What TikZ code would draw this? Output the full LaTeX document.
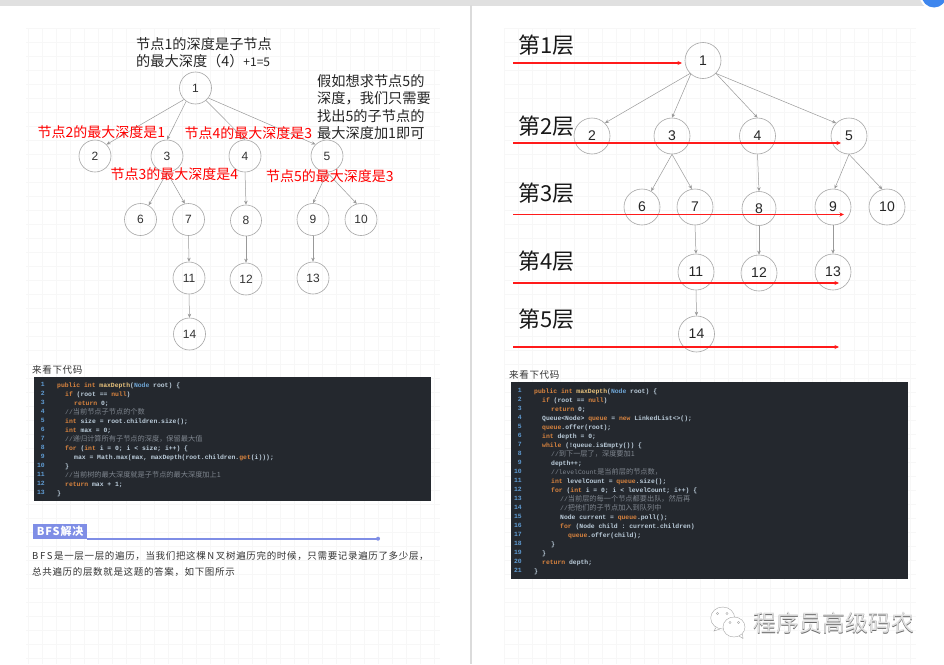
\documentclass[tikz,border=0pt]{standalone}
\usepackage{fontspec}
\setmainfont{Liberation Sans}
\setmonofont{Liberation Mono}
\newfontfamily\cjk{Noto Sans CJK SC}
\newfontfamily\cjkbody[LetterSpace=7]{Noto Sans CJK SC}
\newfontfamily\cjkhead[LetterSpace=8]{Noto Sans CJK SC}
\usetikzlibrary{arrows.meta}

\definecolor{codebg}{HTML}{24282E}
\definecolor{codetext}{HTML}{BCCDDB}
\definecolor{codekw}{HTML}{D9843F}
\definecolor{codefn}{HTML}{E8C27C}
\definecolor{codetype}{HTML}{6FA6D6}
\definecolor{codecmt}{HTML}{7E858E}
\definecolor{codenum}{HTML}{5F9BD2}
\definecolor{headblue}{HTML}{7F8EE6}
\definecolor{nodeline}{HTML}{A6A6A6}
\definecolor{edgeline}{HTML}{999999}
\definecolor{arrowred}{HTML}{FF1A1A}
\definecolor{badgeblue}{HTML}{3E86EE}

\newcommand\kw[1]{{\color{codekw}#1}}
\newcommand\fn[1]{{\color{codefn}#1}}
\newcommand\ty[1]{{\color{codetype}#1}}
\newcommand\cmt[1]{{\color{codecmt}\mdseries #1}}
\newcommand\zh[1]{{\cjk\fontsize{7.2}{9}\selectfont #1}}
\newcommand\ind[1]{\hspace*{#1pt}}

\tikzset{
    smallnode/.style={circle, draw=nodeline, line width=0.6pt, minimum size=32pt, inner sep=0pt,
        text=black!80, font=\fontsize{12}{12}\selectfont},
    bignode/.style={circle, draw=nodeline, line width=0.6pt, minimum size=36pt, inner sep=0pt,
        text=black!85, font=\fontsize{14}{14}\selectfont},
    edge/.style={draw=edgeline, line width=0.5pt, -{Stealth[length=4pt,width=3.5pt]}},
    note/.style={anchor=west, inner sep=0pt, align=left, text=black!85,
        font=\cjk\fontsize{14.2}{17.2}\selectfont},
    rednote/.style={anchor=west, inner sep=0pt, text=red, font=\cjk\fontsize{14}{17}\selectfont},
    levelnote/.style={anchor=west, inner sep=0pt, text=black!90, font=\cjk\fontsize{22}{22}\selectfont},
    levelarrow/.style={draw=arrowred, line width=1.2pt, -{Stealth[length=4.5pt,width=4pt]}},
    codeblock/.style={anchor=north west, inner sep=0pt, align=left, text=codetext,
        font=\ttfamily\bfseries\fontsize{6.4}{9}\selectfont},
    numblock/.style={anchor=north east, inner sep=0pt, align=right, text=codenum,
        font=\ttfamily\bfseries\fontsize{6.4}{9}\selectfont},
    bodytext/.style={anchor=west, inner sep=0pt, text=black!80, font=\cjkbody\fontsize{9.5}{9.5}\selectfont},
    gridline/.style={draw=black!3, line width=0.4pt}
}

\begin{document}
\begin{tikzpicture}[x=1pt, y=-1pt]
    \useasboundingbox (0,0) rectangle (944,664);

    % Fondo
    \fill[white] (0,0) rectangle (944,664);
    \draw[gridline, step=14pt] (26,28) grid (440,664);
    \draw[gridline, step=14pt] (504,28) grid (916,664);
    \fill[black!12] (0,0) rectangle (944,5.5);
    \fill[black!14] (470,5) rectangle (472,664);
    \fill[white] (934,-5) circle (14.5);
    \fill[badgeblue] (934,-5) circle (12.5);

    % Arbol izquierdo
    \node[smallnode] (a1) at (195.5,88) {1};
    \node[smallnode] (a2) at (95,156) {2};
    \node[smallnode] (a3) at (167,156) {3};
    \node[smallnode] (a4) at (245,156) {4};
    \node[smallnode] (a5) at (327,156) {5};
    \node[smallnode] (a6) at (140.5,219.5) {6};
    \node[smallnode] (a7) at (188.5,219.5) {7};
    \node[smallnode, minimum size=31pt] (a8) at (246,220.5) {8};
    \node[smallnode] (a9) at (313,219.5) {9};
    \node[smallnode] (a10) at (361,219.5) {10};
    \node[smallnode] (a11) at (189,278) {11};
    \node[smallnode] (a12) at (246,279) {12};
    \node[smallnode] (a13) at (313,278) {13};
    \node[smallnode] (a14) at (189.5,334) {14};

    \draw[edge] (a1.225) -- (a2.45);
    \draw[edge] (a1.235) -- (a3.north);
    \draw[edge] (a1.310) -- (a4.north);
    \draw[edge] (a1.322) -- (a5.135);
    \draw[edge] (a3.south) -- (a6.60);
    \draw[edge] (a3.south) -- (a7.103);
    \draw[edge] (a4.south) -- (a8.north);
    \draw[edge] (a5.south) -- (a9.north);
    \draw[edge] (a5.south) -- (a10.105);
    \draw[edge] (a7.south) -- (a11.north);
    \draw[edge] (a8.south) -- (a12.north);
    \draw[edge] (a9.south) -- (a13.north);
    \draw[edge] (a11.south) -- (a14.north);

    % Textos del arbol izquierdo
    \node[note] (rootnote) at (136,52.5) {节点1的深度是子节点\\的最大深度（4）{\fontsize{12}{17.2}\selectfont +1=5}};
    \node[note] (asknote) at (317,107) {假如想求节点5的\\深度，我们只需要\\找出5的子节点的\\最大深度加1即可};
    \node[rednote] (red2) at (37.5,132) {节点2的最大深度是1};
    \node[rednote] (red4) at (184.5,133) {节点4的最大深度是3};
    \node[rednote] (red3) at (110.5,174.5) {节点3的最大深度是4};
    \node[rednote] (red5) at (266,176) {节点5的最大深度是3};

    % Arbol derecho
    \node[bignode] (b1) at (703,60.5) {1};
    \node[bignode] (b2) at (592,136) {2};
    \node[bignode] (b3) at (672,136) {3};
    \node[bignode] (b4) at (757.5,136) {4};
    \node[bignode] (b5) at (849,136) {5};
    \node[bignode] (b6) at (642,207) {6};
    \node[bignode] (b7) at (695,207) {7};
    \node[bignode, minimum size=34pt] (b8) at (759,208.5) {8};
    \node[bignode] (b9) at (833,207) {9};
    \node[bignode] (b10) at (887,207) {10};
    \node[bignode] (b11) at (696,272) {11};
    \node[bignode] (b12) at (759,273) {12};
    \node[bignode] (b13) at (833,272) {13};
    \node[bignode] (b14) at (696.5,334) {14};

    \draw[edge] (b1.225) -- (b2.45);
    \draw[edge] (b1.228) -- (b3.north);
    \draw[edge] (b1.315) -- (b4.north);
    \draw[edge] (b1.315) -- (b5.135);
    \draw[edge] (b3.south) -- (b6.60);
    \draw[edge] (b3.south) -- (b7.100);
    \draw[edge] (b4.south) -- (b8.north);
    \draw[edge] (b5.south) -- (b9.85);
    \draw[edge] (b5.south) -- (b10.105);
    \draw[edge] (b7.south) -- (b11.north);
    \draw[edge] (b8.south) -- (b12.north);
    \draw[edge] (b9.south) -- (b13.north);
    \draw[edge] (b11.south) -- (b14.north);

    % Capas
    \node[levelnote] (level1) at (518,45) {第1层};
    \node[levelnote] (level2) at (518,126) {第2层};
    \node[levelnote] (level3) at (518,193.5) {第3层};
    \node[levelnote] (level4) at (518,261) {第4层};
    \node[levelnote] (level5) at (518,319) {第5层};

    \coordinate (start1) at (513,63);
    \coordinate (end1) at (682,63);
    \coordinate (start2) at (513,143);
    \coordinate (end2) at (841,143);
    \coordinate (start3) at (513,214.5);
    \coordinate (end3) at (844,214.5);
    \coordinate (start4) at (513,283);
    \coordinate (end4) at (839,283);
    \coordinate (start5) at (513,347);
    \coordinate (end5) at (839,347);
    \draw[levelarrow] (start1) -- (end1);
    \draw[levelarrow] (start2) -- (end2);
    \draw[levelarrow] (start3) -- (end3);
    \draw[levelarrow] (start4) -- (end4);
    \draw[levelarrow] (start5) -- (end5);

    % Codigo izquierdo
    \node[bodytext] (titlea) at (32,370) {来看下代码};
    \fill[codebg] (34,377.3) rectangle (431,500.7);
    \node[numblock] (numa) at (45,382.5) {1\\2\\3\\4\\5\\6\\7\\8\\9\\10\\11\\12\\13};
    \node[codeblock] (codea) at (57,382.5) {%
        \kw{public int} \fn{maxDepth}(\ty{Node} root) \{\\
        \ind{8}\kw{if} (root == \kw{null})\\
        \ind{17}\kw{return} 0;\\
        \ind{8}\cmt{//\zh{当前节点子节点的个数}}\\
        \ind{8}\kw{int} size = root.children.size();\\
        \ind{8}\kw{int} max = 0;\\
        \ind{8}\cmt{//\zh{递归计算所有子节点的深度，保留最大值}}\\
        \ind{8}\kw{for} (\kw{int} i = 0; i < size; i++) \{\\
        \ind{17}max = Math.max(max, maxDepth(root.children.\kw{get}(i)));\\
        \ind{8}\}\\
        \ind{8}\cmt{//\zh{当前树的最大深度就是子节点的最大深度加上1}}\\
        \ind{8}\kw{return} max + 1;\\
        \}};

    % Seccion BFS
    \node[anchor=west, fill=headblue, text=white, inner sep=0pt, minimum width=54pt, minimum height=15pt,
        font=\cjkhead\bfseries\fontsize{11}{11}\selectfont] (bfshead) at (33,531) {BFS解决};
    \coordinate (bfsend) at (378,538.7);
    \draw[headblue, line width=2pt] (bfshead.south east) -- (bfsend);
    \fill[headblue] (bfsend) circle (2);
    \node[bodytext] (bfsline1) at (32,556) {B\,F\,S\,是一层一层的遍历，当我们把这棵\,N\,叉树遍历完的时候，只需要记录遍历了多少层，};
    \node[bodytext] (bfsline2) at (32,572) {总共遍历的层数就是这题的答案，如下图所示};

    % Codigo derecho
    \node[bodytext] (titleb) at (509,375) {来看下代码};
    \fill[codebg] (511,382) rectangle (908,578.7);
    \node[numblock] (numb) at (522,388.5) {1\\2\\3\\4\\5\\6\\7\\8\\9\\10\\11\\12\\13\\14\\15\\16\\17\\18\\19\\20\\21};
    \node[codeblock] (codeb) at (534,388.5) {%
        \kw{public int} \fn{maxDepth}(\ty{Node} root) \{\\
        \ind{8}\kw{if} (root == \kw{null})\\
        \ind{17}\kw{return} 0;\\
        \ind{8}Queue<Node> \kw{queue} = \kw{new} LinkedList<>();\\
        \ind{8}\kw{queue}.offer(root);\\
        \ind{8}\kw{int} depth = 0;\\
        \ind{8}\kw{while} (!queue.isEmpty()) \{\\
        \ind{17}\cmt{//\zh{到下一层了，深度要加1}}\\
        \ind{17}depth++;\\
        \ind{17}\cmt{//levelCount\zh{是当前层的节点数，}}\\
        \ind{17}\kw{int} levelCount = \kw{queue}.size();\\
        \ind{17}\kw{for} (\kw{int} i = 0; i < levelCount; i++) \{\\
        \ind{26}\cmt{//\zh{当前层的每一个节点都要出队，然后再}}\\
        \ind{26}\cmt{//\zh{把他们的子节点加入到队列中}}\\
        \ind{26}Node current = \kw{queue}.poll();\\
        \ind{26}\kw{for} (Node child : current.children)\\
        \ind{34}\kw{queue}.offer(child);\\
        \ind{17}\}\\
        \ind{8}\}\\
        \ind{8}\kw{return} depth;\\
        \}};

    % Marca de agua
    \draw[black!35, fill=white, line width=0.4pt] (722.7,618) ellipse (12 and 11);
    \draw[black!35, fill=white, line width=0.4pt] (734,627) ellipse (11 and 10);
    \draw[black!35, line width=0.4pt] (716,627.5) -- (714,631) -- (720,629);
    \draw[black!35, line width=0.4pt] (739,636) -- (743,638.5) -- (742.5,634);
    \draw[black!35, line width=0.4pt] (717.5,613.5) circle (1.1) (727,613.5) circle (1.1);
    \draw[black!35, line width=0.4pt] (730,622.5) circle (1.1) (738.5,622.5) circle (1.1);
    \node[anchor=west, inner sep=0pt, text=black!60, font=\cjk\fontsize{23}{23}\selectfont] (markshade) at (753.4,623.4) {程序员高级码农};
    \node[anchor=west, inner sep=0pt, text=black!12, font=\cjk\fontsize{23}{23}\selectfont] (marktext) at (753,623) {程序员高级码农};
\end{tikzpicture}
\end{document}
